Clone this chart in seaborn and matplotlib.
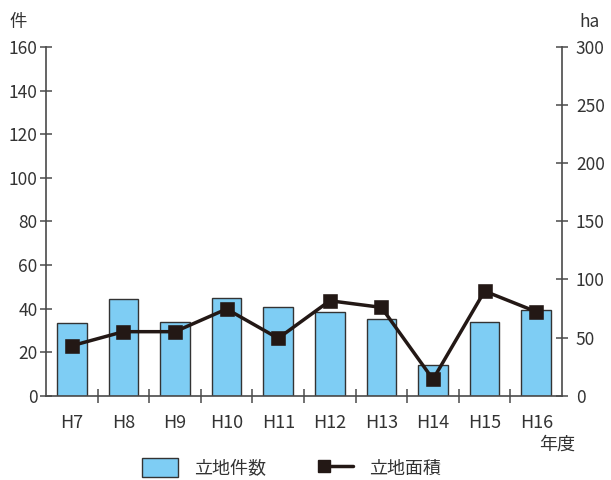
import matplotlib
matplotlib.use("Agg")
import matplotlib.pyplot as plt
import numpy as np
import pandas as pd
import seaborn as sns
from matplotlib.patches import Patch
from matplotlib.lines import Line2D
from matplotlib.legend_handler import HandlerLine2D

years = ["H7", "H8", "H9", "H10", "H11", "H12", "H13", "H14", "H15", "H16"]
counts = [33.2, 44.2, 33.8, 44.8, 40.6, 38.3, 35.2, 14.2, 33.8, 39.3]   # 立地件数 (件)
areas = [43.0, 55.1, 55.1, 74.6, 49.4, 81.7, 76.0, 14.1, 90.0, 72.3]    # 立地面積 (ha)

df = pd.DataFrame({"year": years, "count": counts, "area": areas})

sns.set_theme(style="white")
plt.rcParams["font.family"] = ["Noto Sans CJK JP", "DejaVu Sans"]

bar_color = "#7ecdf4"
line_color = "#231815"
axis_color = "#4a4a4a"
text_color = "#333333"


# legend line with the marker at its left end, like the original
class LeftMarkerHandler(HandlerLine2D):
    def create_artists(self, legend, orig_handle, xdescent, ydescent, width, height,
                       fontsize, trans):
        arts = super().create_artists(legend, orig_handle, xdescent, ydescent, width,
                                      height, fontsize, trans)
        for a in arts:
            xd = a.get_xdata()
            if len(xd) > 1:
                a.set_xdata(np.linspace(xd[0] + 5.5, xd[-1], len(xd)))
                a.set_markevery([0])
        return arts


fig = plt.figure(figsize=(6.11, 4.8), dpi=100)
ax = fig.add_axes([0.0753, 0.1756, 0.8445, 0.7264])

sns.barplot(data=df, x="year", y="count", color=bar_color, width=0.57,
            edgecolor="#333333", linewidth=1.0, saturation=1, ax=ax)
ax.set_ylim(0, 160)
ax.set_yticks(np.arange(0, 161, 20))
ax.set_xlim(-0.5, len(years) - 0.5)
ax.set_xlabel("")
ax.set_ylabel("")

ax2 = ax.twinx()
sns.pointplot(data=df, x="year", y="area", color=line_color, markers="s",
              linestyles="-", ax=ax2, markersize=9, linewidth=2.5)
ax2.set_ylim(0, 300)
ax2.set_yticks(np.arange(0, 301, 50))
ax2.set_xlim(-0.5, len(years) - 0.5)
ax2.set_ylabel("")

for a in (ax, ax2):
    a.spines["top"].set_visible(False)
    for s in ("left", "right", "bottom"):
        a.spines[s].set_color(axis_color)
        a.spines[s].set_linewidth(1.2)

ax.spines["right"].set_visible(False)
ax2.spines["left"].set_visible(False)
ax2.spines["bottom"].set_visible(False)

ax.tick_params(axis="y", direction="inout", length=8, width=1.1, color=axis_color,
               labelsize=12.5, labelcolor=text_color, pad=2, left=True)
ax2.tick_params(axis="y", direction="inout", length=8, width=1.1, color=axis_color,
                labelsize=12.5, labelcolor=text_color, pad=6, right=True)

# category boundary ticks on the x axis
ax.set_xticks(np.arange(len(years)))
ax.set_xticklabels(years)
ax.tick_params(axis="x", length=0, labelsize=13, labelcolor=text_color, pad=13)
ax.set_xticks(np.arange(0.5, len(years) - 0.5, 1), minor=True)
ax.tick_params(axis="x", which="minor", direction="inout", length=10, width=1.1,
               color=axis_color, bottom=True)

fig.text(0.03, 0.955, "件", fontsize=12.5, color=text_color, ha="center", va="center")
fig.text(0.965, 0.955, "ha", fontsize=12.5, color=text_color, ha="center", va="center")
fig.text(0.912, 0.074, "年度", fontsize=13, color=text_color, ha="center", va="center")

bar_handle = Patch(facecolor=bar_color, edgecolor="#333333", linewidth=1.0)
line_handle = Line2D([0], [0], color=line_color, linewidth=2.5, marker="s", markersize=9)
fig.legend([bar_handle, line_handle], ["立地件数", "立地面積"], loc="center",
           bbox_to_anchor=(0.477, 0.025), ncol=2, frameon=False, fontsize=13,
           handlelength=2.0, handleheight=1.25, columnspacing=2.8, handletextpad=0.9,
           labelcolor=text_color, handler_map={Line2D: LeftMarkerHandler()})

fig.savefig("out.png", dpi=100)
